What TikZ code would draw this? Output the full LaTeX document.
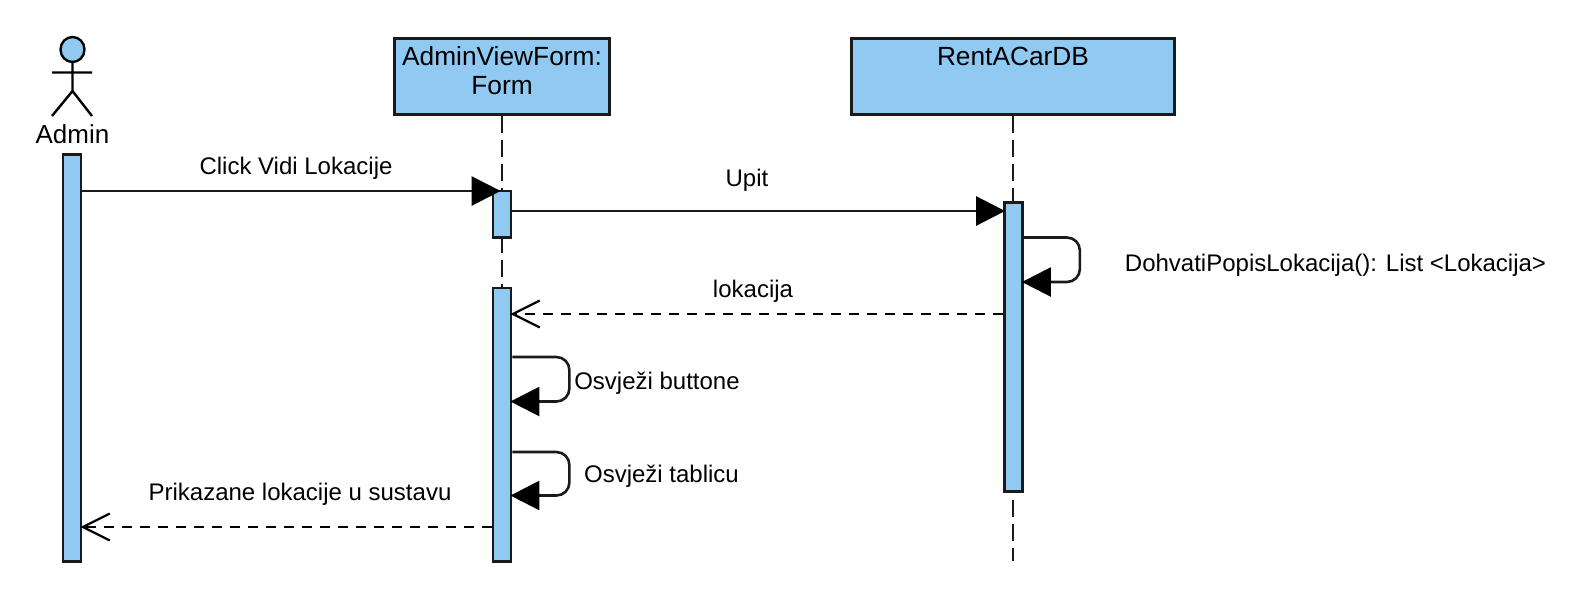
\documentclass[tikz,border=0pt]{standalone}
\usepackage{fontspec}
\setmainfont{Liberation Sans}
\usetikzlibrary{arrows.meta,positioning,calc,shapes.geometric}
\definecolor{barc}{HTML}{90CAF3}
\definecolor{linec}{HTML}{1A1A1A}

\begin{document}
\begin{tikzpicture}[x=1pt,y=-1pt,
      box/.style={draw=linec,fill=barc,line width=3pt,minimum width=#1,minimum height=76pt,inner sep=0pt,align=center,text depth=11pt,font=\fontsize{26.3}{29.3}\selectfont},
      bar/.style={draw=linec,fill=barc,line width=2.8pt,minimum width=18pt,minimum height=#1,inner sep=0pt,anchor=north},
      lbl/.style={inner sep=0pt,font=\fontsize{24}{28}\selectfont},
      life/.style={draw=linec,line width=2.5pt,dash pattern=on 17pt off 7pt},
      call/.style={draw=linec,line width=2.6pt,shorten >=-2pt,-{Triangle[length=29pt,width=29pt,color=black]}},
      selfcall/.style={call,rounded corners=13pt},
      reply/.style={draw=black,line width=2.2pt,shorten >=-2pt,dash pattern=on 10pt off 8pt,-{Straight Barb[length=27pt,width=27pt,line width=2.2pt]}}]
    \useasboundingbox (0,0) rectangle (1578,595);
    % actor
    \node[draw=black,fill=barc,ellipse,line width=2.4pt,minimum width=24pt,minimum height=25pt,inner sep=0pt] (head) at (72.5,49.5) {};
    \coordinate (hip) at (72.5,91);
    \coordinate (armL) at (52,72.5);
    \coordinate (armR) at (92,72.5);
    \coordinate (legL) at (52,116);
    \coordinate (legR) at (92,116);
    \draw[line width=2.4pt] (head.south) -- (hip) (armL) -- (armR) (legL) -- (hip) -- (legR);
    \node[lbl,font=\fontsize{26}{28}\selectfont] (admin) at (72.5,134) {Admin};
    % boxes
    \node[box=215pt] (form) at (502,76) {AdminViewForm:\\Form};
    \node[box=323pt] (db) at (1013,76) {RentACarDB\\~};
    \coordinate (formEnd) at (502,560);
    \coordinate (dbEnd) at (1013,561);
    \draw[life] (form.south) -- (formEnd);
    \draw[life] (db.south) -- (dbEnd);
    % activation bars
    \node[bar=407pt] (barAdmin) at (72,153) {};
    \node[bar=46.5pt] (barForm1) at (502,189.5) {};
    \node[bar=273.5pt] (barForm2) at (502,286.5) {};
    \node[bar=289pt] (barDb) at (1013.5,201) {};
    % messages
    \draw[call,shorten >=-9pt] ([yshift=-38pt]barAdmin.north east) -- ([yshift=-1.5pt]barForm1.north west);
    \draw[call] ([yshift=-21.5pt]barForm1.north east) -- ([yshift=-10pt]barDb.north west);
    \draw[reply] ([yshift=-113pt]barDb.north west) -- ([yshift=-27.5pt]barForm2.north east);
    \draw[reply] ([yshift=-240.5pt]barForm2.north west) -- ([yshift=-374pt]barAdmin.north east);
    \draw[selfcall] ([yshift=-36.5pt]barDb.north east) -- ++(56,0) -- ++(0,44.5) -- ([yshift=-81pt]barDb.north east);
    \draw[selfcall] ([yshift=-70.5pt]barForm2.north east) -- ++(57,0) -- ++(0,44.5) -- ([yshift=-115pt]barForm2.north east);
    \draw[selfcall] ([yshift=-165.5pt]barForm2.north east) -- ++(57,0) -- ++(0,43.5) -- ([yshift=-209pt]barForm2.north east);
    % labels
    \node[lbl] (lClick) at (296,168.5) {Click Vidi Lokacije};
    \node[lbl] (lUpit) at (747,180) {Upit};
    \node[lbl] (lLok) at (753,291) {lokacija};
    \node[lbl] (lDohvati) at (1335.5,265) {DohvatiPopisLokacija(): List <Lokacija>};
    \node[lbl] (lButtone) at (657,383.5) {Osvježi buttone};
    \node[lbl] (lTablicu) at (661.5,476) {Osvježi tablicu};
    \node[lbl] (lPrikaz) at (300,494) {Prikazane lokacije u sustavu};
  \end{tikzpicture}
\end{document}
